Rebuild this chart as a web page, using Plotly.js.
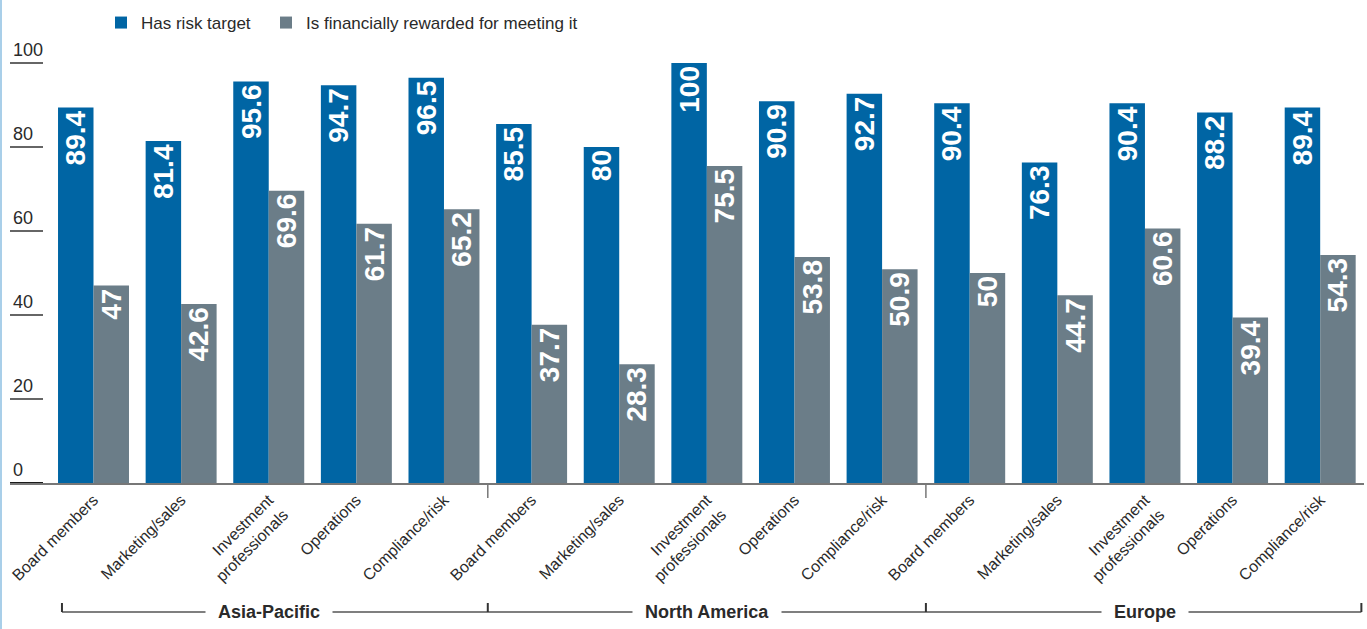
<!DOCTYPE html>
<html>
<head>
<meta charset="utf-8">
<script src="https://cdn.plot.ly/plotly-3.0.1.min.js"></script>
<style>
  html, body { margin: 0; padding: 0; background: #fff; }
  #chart { width: 1367px; height: 629px; }
</style>
</head>
<body>
<div id="chart"></div>
<script>
// ---- Data ----
var roles = ["Board members", "Marketing/sales", "Investment<br>professionals", "Operations", "Compliance/risk"];
var regions = ["Asia-Pacific", "North America", "Europe"];

var hasRiskTarget = [
  89.4, 81.4, 95.6, 94.7, 96.5,   // Asia-Pacific
  85.5, 80, 100, 90.9, 92.7,      // North America
  90.4, 76.3, 90.4, 88.2, 89.4    // Europe
];
var financiallyRewarded = [
  47, 42.6, 69.6, 61.7, 65.2,
  37.7, 28.3, 75.5, 53.8, 50.9,
  50, 44.7, 60.6, 39.4, 54.3
];
var seriesNames = ["Has risk target", "Is financially rewarded for meeting it"];
var yTicks = [0, 20, 40, 60, 80, 100];

// ---- Build ----
var tickText = [];
regions.forEach(function () { roles.forEach(function (r) { tickText.push(r); }); });
var xIdx = tickText.map(function (_, i) { return i; });

var BLUE = "#0065a4";
var GREY = "#6b7d88";
var TXT = "#2a2a2a";
var FONT = "Liberation Sans, Arial, sans-serif";

function barTrace(name, vals, color, legendId) {
  return {
    type: "bar",
    name: name,
    legend: legendId,
    x: xIdx,
    y: vals,
    marker: { color: color, line: { width: 0 } },
    text: vals.map(String),
    texttemplate: "%{text}",
    textposition: "inside",
    insidetextanchor: "end",
    textangle: -90,
    constraintext: "none",
    insidetextfont: { family: "Liberation Sans, Arial, sans-serif", size: 28, color: "#ffffff", weight: "bold" },
    hoverinfo: "skip"
  };
}

var data = [
  barTrace(seriesNames[0], hasRiskTarget, BLUE, "legend"),
  barTrace(seriesNames[1], financiallyRewarded, GREY, "legend2")
];

var nCat = tickText.length;
var perRegion = roles.length;

// plot area: y=0 at 483px, 4.2 px per unit; top margin 34px leaves room above 100 for its label
var TOP = 34;
var plotH = 483 - TOP;
var yTop = plotH / 4.2;
var plotW = 1367 - 10 - 3;
function py(px) { return (483 - px) / plotH; }  // pixel row -> paper y
function pxX(px) { return (px - 10) / plotW; }  // pixel column -> paper x

var shapes = [];
// light blue left border
shapes.push({ type: "line", xref: "paper", yref: "paper", x0: pxX(1), x1: pxX(1), y0: py(640), y1: py(-10),
  line: { color: "#a9cfe9", width: 2 } });
// black zero underline
shapes.push({ type: "line", xref: "paper", yref: "y", x0: 0, x1: pxX(43), y0: 0, y1: 0,
  line: { color: "#1a1a1a", width: 2 } });
// region separators under axis
for (var g = 1; g < regions.length; g++) {
  shapes.push({ type: "line", xref: "x", yref: "paper", x0: g * perRegion - 0.5, x1: g * perRegion - 0.5,
    y0: 0, y1: py(498), line: { color: "#777777", width: 1.5 } });
}
// bracket line
var bracketY = py(612), bracketTop = py(603);
var bx = [-0.36, perRegion - 0.5, 2 * perRegion - 0.5, nCat - 0.53];
shapes.push({ type: "line", xref: "x", yref: "paper", x0: bx[0], x1: bx[3], y0: bracketY, y1: bracketY,
  line: { color: "#555555", width: 1.5 } });
bx.forEach(function (v) {
  shapes.push({ type: "line", xref: "x", yref: "paper", x0: v, x1: v, y0: bracketY, y1: bracketTop,
    line: { color: "#333333", width: 2 } });
});

var annotations = regions.map(function (r, i) {
  return {
    text: r, xref: "x", yref: "paper", x: i * perRegion + (perRegion - 1) / 2, y: bracketY,
    xanchor: "center", yanchor: "middle", showarrow: false,
    bgcolor: "#ffffff", borderpad: 12,
    font: { family: FONT, size: 18, color: TXT, weight: "bold" }
  };
});

function legendCfg(px) {
  return {
    orientation: "h", x: pxX(px), xanchor: "left", y: py(23), yanchor: "middle",
    font: { family: FONT, size: 17, color: TXT },
    bgcolor: "rgba(0,0,0,0)", borderwidth: 0
  };
}

var layout = {
  width: 1367, height: 629,
  margin: { l: 10, r: 3, t: TOP, b: 146 },
  paper_bgcolor: "#ffffff", plot_bgcolor: "#ffffff",
  font: { family: FONT, color: TXT, size: 16 },
  barmode: "group",
  bargap: 0.19,
  bargroupgap: 0,
  showlegend: true,
  legend: legendCfg(101),
  legend2: legendCfg(266),
  xaxis: {
    range: [-0.953, nCat - 0.5],
    tickmode: "array", tickvals: xIdx, ticktext: tickText,
    tickangle: -45, ticks: "", showgrid: false, zeroline: false,
    showline: true, linecolor: "#777777", linewidth: 1.5,
    tickfont: { family: FONT, size: 16, color: TXT },
    fixedrange: true
  },
  yaxis: {
    range: [0, yTop], tickmode: "array", tickvals: yTicks,
    ticks: "inside", ticklen: 33, tickwidth: 1.5, tickcolor: "#666666",
    ticklabelposition: "inside top",
    showgrid: false, zeroline: false, showline: false,
    tickfont: { family: FONT, size: 18, color: TXT },
    fixedrange: true
  },
  shapes: shapes,
  annotations: annotations
};

Plotly.newPlot("chart", data, layout, { displayModeBar: false, staticPlot: true });
</script>
</body>
</html>
